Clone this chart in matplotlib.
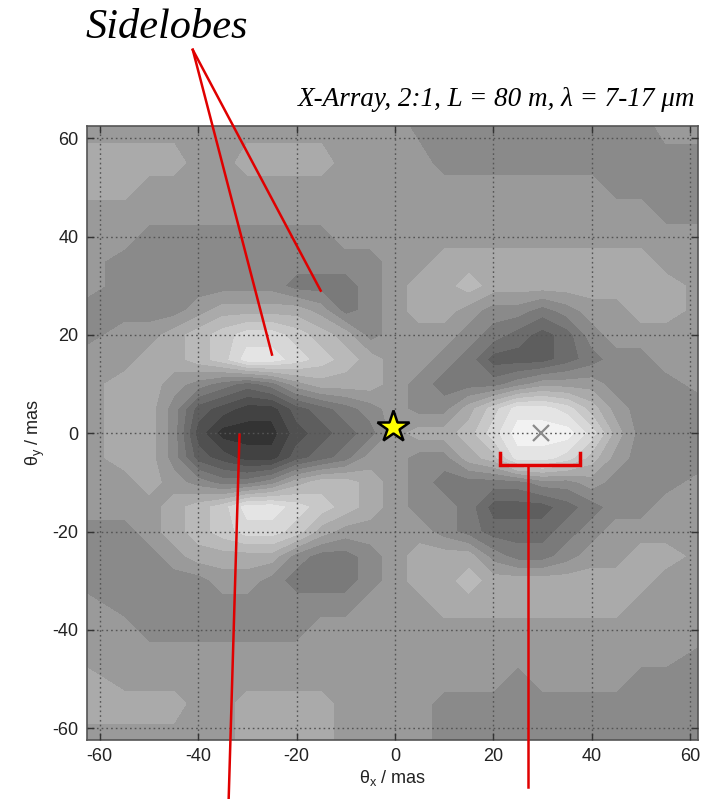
import numpy as np
import matplotlib.pyplot as plt
from matplotlib.colors import to_hex

plt.rcParams['axes.unicode_minus'] = False

# sample positions in mas (outer samples sit on the plot edge)
theta_x = [-63, -55, -50, -45, -40, -35, -30, -25, -20, -15, -10, -5, 0,
           5, 10, 15, 20, 25, 30, 35, 40, 45, 50, 55, 63]
theta_y = [63, 55, 50, 45, 40, 35, 30, 25, 20, 15, 10, 5, 0,
           -5, -10, -15, -20, -25, -30, -35, -40, -45, -50, -55, -63]

# grey level at each sample (hex digit, 0 = darkest, d = brightest)
level_rows = [
    "7777777777777666666666677",
    "8888778888777766666666666",
    "8877777777777777777776666",
    "7777777777777777777777766",
    "7766666666777777777777777",
    "7666666666667788888888877",
    "7666666655567889888888887",
    "6666788887567887665677887",
    "67789abba9867776543467777",
    "77889accba987765333456677",
    "7887654578887655567776667",
    "7886321134567668accb97666",
    "7886200023457889bdddb8666",
    "78863211345776689ccb97666",
    "7787655689987655556676667",
    "77789accba987665333456677",
    "66789abba8777765444567777",
    "6667888865567888655677887",
    "6666677655567889888888877",
    "7666666666677788888888777",
    "7766666667777777777777777",
    "7777777777777777777777776",
    "8777777777777777767777666",
    "8888778888777766666666666",
    "7777778888777766666666666",
]

# grey value of each level band
grey = [0x33, 0x42, 0x50, 0x5e, 0x6c, 0x7a, 0x8a, 0x9a, 0xaa, 0xb9, 0xc8, 0xd7, 0xe4, 0xf2]

ticks = [-60, -40, -20, 0, 20, 40, 60]
star_pos = (-0.5, 1.2)
peak_pos = (29.7, 0.0)

# annotation strokes (data coordinates, may run outside the axes)
sidelobe_apex = (-41.1, 78.0)
sidelobe_tips = [(-25.0, 16.0), (-15.1, 29.0)]
mainlobe_line = [(-31.6, -0.3), (-33.8, -74.3)]
bracket_x = (21.3, 37.6)
bracket_y = -6.4
bracket_tip_y = -4.0
stem_bottom = -71.9

Z = np.array([[int(c, 16) for c in row] for row in level_rows], dtype=float)
colors = [to_hex((g / 255, g / 255, g / 255)) for g in grey]

fig = plt.figure(figsize=(7.1, 7.99), dpi=100)
ax = fig.add_axes([87 / 710, 1 - 740 / 799, 611 / 710, 614.5 / 799])

ax.contourf(theta_x, theta_y, Z, levels=np.arange(-0.5, 14, 1), colors=colors,
            antialiased=False)

ax.set_xlim(-62.6, 61.6)
ax.set_ylim(-62.4, 62.6)
ax.set_xticks(ticks)
ax.set_yticks(ticks)
ax.set_axisbelow(False)
ax.grid(True, linestyle=(0, (1.2, 2.2)), color='#555555', linewidth=1.0)
ax.tick_params(direction='in', top=True, right=True, length=5, width=1,
               color='#333333', labelsize=13, labelcolor='#222222', pad=6)
for sp in ax.spines.values():
    sp.set_color('#555555')
    sp.set_linewidth(1.2)
for lab in ax.get_xticklabels() + ax.get_yticklabels():
    lab.set_family('Liberation Sans')

ax.set_xlabel('θ$_\\mathregular{x}$ / mas', fontsize=13, family='Liberation Sans',
              color='#222222', labelpad=2)
ax.set_ylabel('θ$_\\mathregular{y}$ / mas', fontsize=13, family='Liberation Sans',
              color='#222222', labelpad=4)

# markers
ax.plot(*peak_pos, marker='x', ms=11, mew=1.6, color='#8a8a8a', zorder=5)
ax.plot(*star_pos, marker='*', ms=24, mfc='#ffff00', mec='black', mew=1.8, zorder=6)

red = '#e00000'
for tip in sidelobe_tips:
    ax.plot([sidelobe_apex[0], tip[0]], [sidelobe_apex[1], tip[1]], color=red,
            lw=1.8, clip_on=False, zorder=7)
ax.plot([p[0] for p in mainlobe_line], [p[1] for p in mainlobe_line], color=red,
        lw=1.8, clip_on=False, zorder=7)
ax.plot([bracket_x[0], bracket_x[0], bracket_x[1], bracket_x[1]],
        [bracket_tip_y, bracket_y, bracket_y, bracket_tip_y], color=red, lw=2.5,
        zorder=7, solid_joinstyle='miter')
stem_x = bracket_x[0] + 0.35 * (bracket_x[1] - bracket_x[0])
ax.plot([stem_x, stem_x], [bracket_y, stem_bottom], color=red, lw=1.8,
        clip_on=False, zorder=7)

fig.text(85 / 710, 1 - 28 / 799, 'Sidelobes', fontsize=30.5, style='italic',
         family='Liberation Serif', va='center', ha='left')
fig.text(695 / 710, 1 - 100 / 799, 'X-Array, 2:1, L = 80 m, λ = 7-17 μm',
         fontsize=19.5, style='italic', family='Liberation Serif',
         va='center', ha='right')

fig.savefig('out.png', dpi=100)
